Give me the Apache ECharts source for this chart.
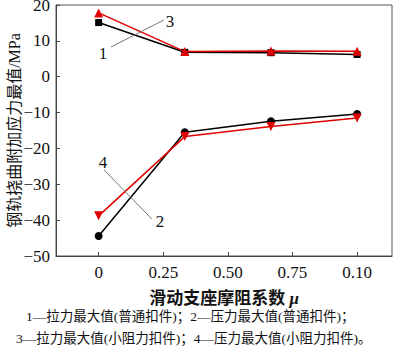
<!DOCTYPE html>
<html>
<head>
<meta charset="utf-8">
<script src="https://cdn.jsdelivr.net/npm/echarts@6/dist/echarts.min.js"></script>
<style>html,body{margin:0;padding:0;background:#fff}#main{width:400px;height:352px}</style>
</head>
<body>
<div id="main"></div>
<script>
// 摩阻系数位置（横轴按等间距排布）
var xPos = [0, 1 / 3, 2 / 3, 1];
var tickValues = [0, 0.25, 0.5, 0.75, 1];
var tickLabels = ['0', '0.25', '0.50', '0.75', '0.10'];

var tension1 = [15.1, 6.8, 6.7, 6.2];    // 1 拉力最大值(普通扣件)
var compress2 = [-44.4, -15.5, -12.4, -10.4]; // 2 压力最大值(普通扣件)
var tension3 = [17.8, 7.0, 7.2, 7.1];    // 3 拉力最大值(小阻力扣件)
var compress4 = [-38.8, -16.7, -13.9, -11.5]; // 4 压力最大值(小阻力扣件)

// 曲线编号标注（数据坐标）
var tagNames = ['3', '1', '4', '2'];
var tagPos = [[0.276, 15.5], [0.017, 6.6], [0.017, -23.8], [0.237, -40.5]];
var leaders = [
  [[0.048, 8.3], [0.252, 15.8]],
  [[0.021, -26.0], [0.206, -39.7]]
];

var captions = [
  '1—拉力最大值(普通扣件)；2—压力最大值(普通扣件)；',
  '3—拉力最大值(小阻力扣件)；4—压力最大值(小阻力扣件)。'
];

function pairs(ys) {
  return ys.map(function (v, i) { return [xPos[i], v]; });
}

var serif = '"Liberation Serif", "Times New Roman", serif';
var cjk = '"Liberation Serif", "Noto Sans CJK SC", serif';

var myChart = echarts.init(document.getElementById('main'), null, { renderer: 'svg' });
var option = {
  animation: false,
  title: [
    { text: captions[0], left: 26, top: 310, padding: 0,
      textStyle: { fontSize: 13.5, fontWeight: 'normal', color: '#111', fontFamily: cjk } },
    { text: captions[1], left: 16, top: 332, padding: 0,
      textStyle: { fontSize: 13.5, fontWeight: 'normal', color: '#111', fontFamily: cjk } }
  ],
  grid: {
    left: 56, right: 8, top: 5, bottom: 96, outerBoundsMode: 'none',
    show: true, borderColor: '#555', borderWidth: 1
  },
  xAxis: {
    type: 'value',
    min: -0.165,
    max: 1.135,
    name: '滑动支座摩阻系数 {i|μ}',
    nameLocation: 'middle',
    nameGap: 34,
    nameMoveOverlap: false,
    nameTextStyle: {
      fontSize: 17, fontWeight: 'bold', color: '#111', fontFamily: cjk,
      rich: { i: { fontStyle: 'italic', fontSize: 17, fontWeight: 'bold', fontFamily: serif } }
    },
    splitLine: { show: false },
    axisLine: { show: true, onZero: false, lineStyle: { color: '#444', width: 1 } },
    axisTick: { show: true, inside: true, length: 4, customValues: tickValues, lineStyle: { color: '#444' } },
    axisLabel: {
      customValues: tickValues,
      fontSize: 17, color: '#111', fontFamily: serif, margin: 8,
      formatter: function (v) {
        var k = tickValues.indexOf(v);
        return k >= 0 ? tickLabels[k] : '';
      }
    }
  },
  yAxis: {
    type: 'value',
    min: -50,
    max: 20,
    interval: 10,
    name: '钢轨挠曲附加应力最值/MPa',
    nameLocation: 'middle',
    nameGap: 34,
    nameMoveOverlap: false,
    nameTextStyle: { fontSize: 16, color: '#111', fontFamily: cjk },
    splitLine: { show: false },
    axisLine: { show: true, onZero: false, lineStyle: { color: '#444', width: 1 } },
    axisTick: { show: true, inside: true, length: 4, lineStyle: { color: '#444' } },
    axisLabel: {
      fontSize: 17, color: '#111', fontFamily: serif, margin: 6,
      formatter: function (v) { return String(v).replace('-', '\u2212'); }
    }
  },
  series: [
    {
      name: '1', type: 'line', data: pairs(tension1), symbol: 'rect', symbolSize: 7,
      lineStyle: { color: '#000', width: 1.5 }, itemStyle: { color: '#000' }, z: 2,
      markLine: {
        silent: true, symbol: 'none', animation: false,
        lineStyle: { color: '#777', width: 1, type: 'solid' },
        label: { show: false },
        data: leaders.map(function (s) { return [{ coord: s[0] }, { coord: s[1] }]; })
      },
      markPoint: {
        silent: true, symbol: 'circle', symbolSize: 1, animation: false,
        itemStyle: { color: 'rgba(0,0,0,0)' },
        label: { show: true, position: 'inside', color: '#111', fontSize: 17, fontFamily: serif },
        data: tagPos.map(function (p, i) {
          return { coord: p, label: { formatter: tagNames[i] } };
        })
      }
    },
    {
      name: '2', type: 'line', data: pairs(compress2), symbol: 'circle', symbolSize: 8,
      lineStyle: { color: '#000', width: 1.5 }, itemStyle: { color: '#000' }, z: 2
    },
    {
      name: '3', type: 'line', data: pairs(tension3), symbol: 'triangle', symbolSize: 9,
      lineStyle: { color: '#e00000', width: 1.5 }, itemStyle: { color: '#e00000' }, z: 3
    },
    {
      name: '4', type: 'line', data: pairs(compress4), symbol: 'triangle', symbolRotate: 180, symbolSize: 9,
      lineStyle: { color: '#e00000', width: 1.5 }, itemStyle: { color: '#e00000' }, z: 3
    }
  ]
};
myChart.setOption(option);
</script>
</body>
</html>
